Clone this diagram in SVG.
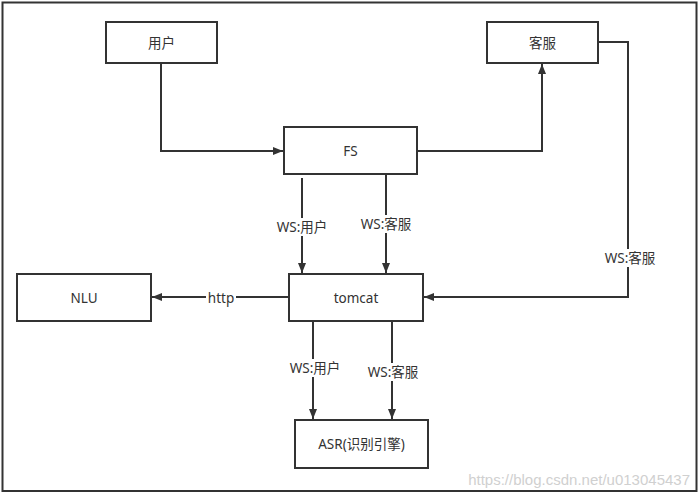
<svg xmlns="http://www.w3.org/2000/svg" width="700" height="495" viewBox="0 0 700 495">
<style>
.box{fill:#fff;stroke:#333;stroke-width:2}
.t{font-family:"Noto Sans","Noto Sans CJK SC",sans-serif;font-size:13.5px;fill:#333;text-anchor:middle;dominant-baseline:central}
.ln{fill:none;stroke:#333;stroke-width:2}
.lb{fill:#fff}
</style>
<defs>
<marker id="ah" viewBox="0 0 10 10" refX="10" refY="5" markerWidth="10" markerHeight="10" markerUnits="userSpaceOnUse" orient="auto">
<path d="M0,1 L10,5 L0,9 Z" fill="#333"/>
</marker>
</defs>
<rect x="0" y="0" width="700" height="495" fill="#fff"/>
<rect x="2.5" y="2.5" width="694" height="488.5" fill="none" stroke="#333" stroke-width="2"/>
<g id="connectors">
<path class="ln" d="M161,63 V151 H283" marker-end="url(#ah)"/>
<path class="ln" d="M417,151 H542 V64" marker-end="url(#ah)"/>
<path class="ln" d="M598,42 H628 V297 H424" marker-end="url(#ah)"/>
<path class="ln" d="M302,178 V273" marker-end="url(#ah)"/>
<path class="ln" d="M386,174 V273" marker-end="url(#ah)"/>
<path class="ln" d="M289,297 H152" marker-end="url(#ah)"/>
<path class="ln" d="M313,321 V419" marker-end="url(#ah)"/>
<path class="ln" d="M392,321 V419" marker-end="url(#ah)"/>
<rect class="lb" x="275" y="218" width="54" height="18"/>
<text class="t" x="302" y="227">WS:用户</text>
<rect class="lb" x="359" y="215" width="54" height="18"/>
<text class="t" x="386" y="224">WS:客服</text>
<rect class="lb" x="602" y="249" width="56" height="18"/>
<text class="t" x="630" y="258">WS:客服</text>
<rect class="lb" x="206" y="289" width="30" height="18"/>
<text class="t" x="221" y="298">http</text>
<rect class="lb" x="288" y="359" width="54" height="18"/>
<text class="t" x="315" y="368">WS:用户</text>
<rect class="lb" x="366" y="363" width="54" height="18"/>
<text class="t" x="393" y="372">WS:客服</text>
</g>
<g id="node-user"><rect class="box" x="106" y="22" width="111" height="41"/><text class="t" x="161.5" y="42.5">用户</text></g>
<g id="node-kefu"><rect class="box" x="487" y="22" width="111" height="41"/><text class="t" x="542.5" y="42.5">客服</text></g>
<g id="node-fs"><rect class="box" x="284" y="127" width="133" height="47"/><text class="t" x="350.5" y="150.5">FS</text></g>
<g id="node-nlu"><rect class="box" x="17" y="274" width="134" height="47"/><text class="t" x="84" y="297.5">NLU</text></g>
<g id="node-tomcat"><rect class="box" x="289" y="274" width="134" height="47"/><text class="t" x="356" y="297.5">tomcat</text></g>
<g id="node-asr"><rect class="box" x="295" y="420" width="133" height="48"/><text class="t" x="361.5" y="444">ASR(识别引擎)</text></g>
<text x="690" y="479" font-family="Liberation Sans, sans-serif" font-size="15" fill="#d0d0d0" text-anchor="end" dominant-baseline="central">https://blog.csdn.net/u013045437</text>
</svg>
